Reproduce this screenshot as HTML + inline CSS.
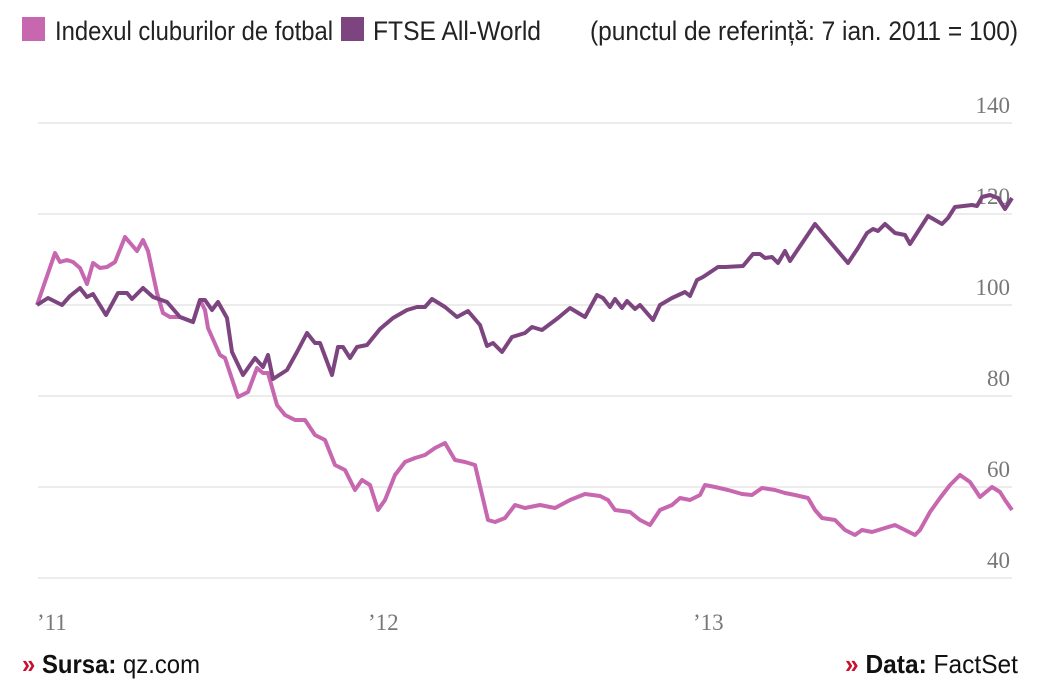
<!DOCTYPE html>
<html><head><meta charset="utf-8"><style>
html,body{margin:0;padding:0;background:#fff;}
svg{display:block}
.lg{font-family:"Liberation Sans Narrow","Liberation Sans",sans-serif;font-size:27px;fill:#222}
.ax{font-family:"Liberation Serif",serif;font-size:23px;fill:#777}
.ft{font-family:"Liberation Sans Narrow","Liberation Sans",sans-serif;font-size:26px;fill:#111}
</style></head><body>
<svg width="1050" height="700" viewBox="0 0 1050 700">
<rect x="22" y="17" width="23" height="24" fill="#c767b0"/>
<text class="lg" x="55" y="40" textLength="278" lengthAdjust="spacingAndGlyphs">Indexul cluburilor de fotbal</text>
<rect x="341" y="17" width="23" height="24" fill="#7d4580"/>
<text class="lg" x="373" y="40" textLength="168" lengthAdjust="spacingAndGlyphs">FTSE All-World</text>
<text class="lg" x="590" y="40" textLength="428" lengthAdjust="spacingAndGlyphs">(punctul de referință: 7 ian. 2011 = 100)</text>
<g stroke="#ececec" stroke-width="2">
<line x1="38" y1="123" x2="1012" y2="123"/>
<line x1="38" y1="214" x2="1012" y2="214"/>
<line x1="38" y1="305" x2="1012" y2="305"/>
<line x1="38" y1="396" x2="1012" y2="396"/>
<line x1="38" y1="487" x2="1012" y2="487"/>
<line x1="38" y1="578" x2="1012" y2="578"/>
</g>
<g class="ax" text-anchor="end">
<text x="1010" y="113">140</text>
<text x="1010" y="204">120</text>
<text x="1010" y="295">100</text>
<text x="1010" y="386">80</text>
<text x="1010" y="477">60</text>
<text x="1010" y="568">40</text>
</g>
<g class="ax">
<text x="37" y="630">’11</text>
<text x="368" y="630">’12</text>
<text x="693" y="630">’13</text>
</g>
<polyline fill="none" stroke="#c767b0" stroke-width="4" stroke-linejoin="round" points="37,305 55,253 60,262 67,260 73,262 80,268 87,284 93,263 100,268 107,267 115,262 125,237 137,251 143,240 148,251 157,293 163,313 170,317 180,317 193,322 200,300 205,310 208,328 220,355 225,358 238,397 248,392 257,368 263,373 268,373 277,405 285,415 295,420 305,420 315,435 325,440 335,465 345,470 355,490 362,480 370,485 378,510 385,500 395,475 405,462 415,458 425,455 435,448 445,443 455,460 465,462 475,465 488,520 495,522 505,518 515,505 525,508 540,505 555,508 570,500 585,494 600,496 608,500 615,510 630,512 640,520 650,525 660,510 672,505 680,498 690,500 700,495 705,485 715,487 728,490 742,494 752,495 762,488 775,490 785,493 795,495 808,498 815,510 822,518 835,520 845,530 855,535 862,530 872,532 885,528 895,525 905,530 915,535 920,530 930,512 940,498 950,485 960,475 970,482 980,497 992,487 1000,492 1005,500 1012,510"/>
<polyline fill="none" stroke="#7d4580" stroke-width="4" stroke-linejoin="round" points="37,305 48,298 62,305 70,296 80,288 87,297 93,294 106,315 118,293 127,293 132,299 143,288 153,297 167,302 180,317 193,322 200,300 205,300 212,310 218,302 227,318 232,352 243,375 255,358 263,367 268,355 273,379 287,370 297,352 307,333 315,343 320,343 332,375 338,347 343,347 350,358 357,347 367,345 380,329 393,318 407,310 417,307 425,307 432,299 445,307 457,317 468,311 480,325 487,346 493,343 502,352 512,337 525,333 532,327 542,330 558,318 570,308 585,317 597,295 603,298 610,307 615,299 622,308 627,301 635,309 640,305 653,320 660,305 672,298 685,292 690,296 697,280 703,277 718,267 725,267 743,266 753,254 760,254 765,258 772,257 778,263 785,251 790,261 815,224 848,263 858,248 867,233 873,229 878,231 885,224 895,233 905,235 910,244 928,216 942,224 948,218 955,207 972,205 977,206 982,197 990,195 998,198 1005,209 1012,198"/>
<text class="ft" x="22" y="673" textLength="178" lengthAdjust="spacingAndGlyphs"><tspan fill="#c8102e" font-weight="bold">»</tspan> <tspan font-weight="bold">Sursa:</tspan> qz.com</text>
<text class="ft" x="845" y="673" textLength="173" lengthAdjust="spacingAndGlyphs"><tspan fill="#c8102e" font-weight="bold">»</tspan> <tspan font-weight="bold">Data:</tspan> FactSet</text>
</svg>
</body></html>
